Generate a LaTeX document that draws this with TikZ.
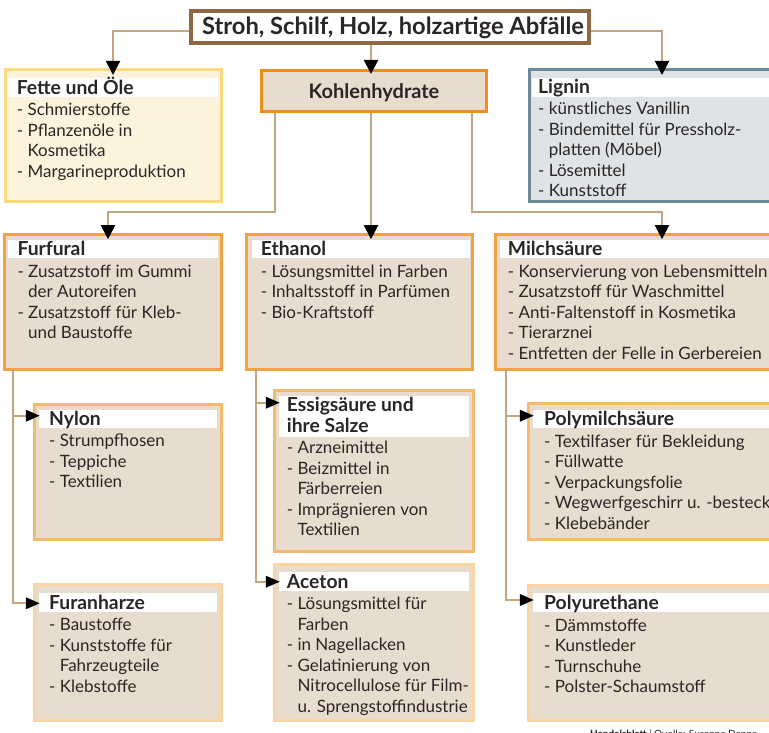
\documentclass[tikz,border=0pt]{standalone}
\usepackage{fontspec}
\setmainfont{Lato}
\usetikzlibrary{arrows.meta,fit}
\definecolor{topbrd}{HTML}{8E6842}
\definecolor{linec}{HTML}{C6A47F}
\definecolor{orA}{HTML}{EE8E1E}
\definecolor{orB}{HTML}{F0A245}
\definecolor{orC}{HTML}{F6BA6E}
\definecolor{orD}{HTML}{FBD4A3}
\definecolor{tanfill}{HTML}{E8DCCE}
\definecolor{yelbrd}{HTML}{FADA7F}
\definecolor{yelfill}{HTML}{FDF3DC}
\definecolor{blubrd}{HTML}{6E8A99}
\definecolor{blufill}{HTML}{DFE3E6}
\definecolor{textc}{HTML}{2A2626}
\newcommand\ct{\phantom{- }}
\newcommand\hdfont{\bfseries\fontsize{19.3}{21.5}\selectfont}
\newcommand\hd[1]{\rule{0pt}{20pt}{\hdfont #1}}
\newcommand\infobox[8]{%
  \node[#2, fit={(#3) (#4)}] (#1) {};
  \fill[white] (#5) rectangle (#6);
  \node[txt] (#1-t) at (#7) {#8};
}
\tikzset{
  box/.style={draw, line width=3pt, inner sep=-1.5pt, outer sep=0pt},
  fettebox/.style={box, draw=yelbrd, fill=yelfill},
  ligninbox/.style={box, draw=blubrd, fill=blufill},
  lvltwo/.style={box, draw=orB, fill=tanfill},
  lvlthree/.style={box, draw=orC, fill=tanfill},
  lvlfour/.style={box, draw=orD, fill=tanfill},
  txt/.style={anchor=north west, inner sep=0pt, align=left, text=textc,
    font=\fontsize{17}{20.5}\selectfont},
  conn/.style={draw=linec, line width=2pt, shorten >=-5pt,
    -{Triangle[length=14pt,width=14pt,color=black,fill=black]}},
  sconn/.style={draw=linec, line width=2pt, shorten >=-5pt,
    -{Triangle[length=14pt,width=11.5pt,color=black,fill=black]}},
}
\begin{document}
\begin{tikzpicture}[x=1pt,y=-1pt]
\useasboundingbox (0,0) rectangle (769,733);
\clip (0,0) rectangle (769,733);

% top
\node[draw=topbrd, line width=4pt, fill=white, inner sep=-2pt, fit={(189,9.5) (591,45.5)}] (top) {};
\node[text=textc, font=\bfseries\fontsize{23.7}{25}\selectfont, inner sep=0pt, anchor=base]
  (top-t) at (393,34.5) {Stroh, Schilf, Holz, holzartige Abfälle};

% Kohlenhydrate
\node[draw=orA, line width=3pt, fill=tanfill, inner sep=-1.5pt, fit={(260,69) (488.3,113.3)}] (kohle) {};
\node[text=textc, font=\bfseries\fontsize{20}{22}\selectfont, inner sep=0pt, anchor=base]
  (kohle-t) at (374,98.5) {Kohlenhydrate};

\infobox{fette}{fettebox}{3.5,68.5}{222.5,203.5}{8.3,78.3}{218.3,96.7}{16.7,74}
  {\hd{Fette und Öle}\\[1pt]- Schmierstoffe\\- Pflanzenöle in\\\ct Kosmetika\\- Margarineproduktion}
\infobox{lignin}{ligninbox}{528.3,68.5}{795.7,203.5}{531.5,77.7}{790,96.7}{538,73}
  {\hd{Lignin}\\[1pt]- künstliches Vanillin\\- Bindemittel für Pressholz-\\\ct platten (Möbel)\\- Lösemittel\\- Kunststoff}
\infobox{furfural}{lvltwo}{3.3,232.7}{222.7,370.7}{8.3,240}{218.3,258.3}{17.3,235.3}
  {\hd{Furfural}\\[1pt]- Zusatzstoff im Gummi\\\ct der Autoreifen\\- Zusatzstoff für Kleb-\\\ct und Baustoffe}
\infobox{ethanol}{lvltwo}{245,232.7}{474.3,370.7}{251.7,240}{470,258.3}{260.7,235.3}
  {\hd{Ethanol}\\[1pt]- Lösungsmittel in Farben\\- Inhaltsstoff in Parfümen\\- Bio-Kraftstoff}
\infobox{milch}{lvltwo}{494.3,232.7}{829.7,370.7}{500,240}{820,258.3}{507.7,235.3}
  {\hd{Milchsäure}\\[1pt]- Konservierung von Lebensmitteln\\- Zusatzstoff für Waschmittel\\- Anti-Faltenstoff in Kosmetika\\- Tierarznei\\- Entfetten der Felle in Gerbereien}
\infobox{nylon}{lvlthree}{33.3,402.7}{223.3,541}{39.3,410}{217.3,428.3}{49,405}
  {\hd{Nylon}\\[1pt]- Strumpfhosen\\- Teppiche\\- Textilien}
\infobox{furan}{lvlfour}{33.3,583.3}{223.3,722.3}{39.3,593.3}{217.3,611.7}{49,589}
  {\hd{Furanharze}\\[1pt]- Baustoffe\\- Kunststoffe für\\\ct Fahrzeugteile\\- Klebstoffe}
\infobox{essig}{lvlthree}{273.3,388.5}{475,553.3}{279.3,396}{469.3,437.3}{286.7,391.7}
  {\hd{Essigsäure und}\\[0pt]{\hdfont ihre Salze}\\[1pt]- Arzneimittel\\- Beizmittel in\\\ct Färberreien\\- Imprägnieren von\\\ct Textilien}
\infobox{aceton}{lvlfour}{273.3,563.3}{475,722.3}{279.3,572}{469.3,590.7}{286.7,568}
  {\hd{Aceton}\\[1pt]- Lösungsmittel für\\\ct Farben\\- in Nagellacken\\- Gelatinierung von\\\ct Nitrocellulose für Film-\\\ct u. Sprengstoffindustrie}
\infobox{polymilch}{lvlthree}{527.3,402.3}{829.7,541}{532.7,409.7}{820,428.3}{544,405.3}
  {\hd{Polymilchsäure}\\[1pt]- Textilfaser für Bekleidung\\- Füllwatte\\- Verpackungsfolie\\- Wegwerfgeschirr u. -besteck\\- Klebebänder}
\infobox{polyur}{lvlfour}{527.3,583.7}{829.7,722.3}{532.7,593.3}{820,612}{544,589.5}
  {\hd{Polyurethane}\\[1pt]- Dämmstoffe\\- Kunstleder\\- Turnschuhe\\- Polster-Schaumstoff}

% helper coordinates
\coordinate (spine) at (371,0);
\coordinate (kl) at (275,212);
\coordinate (kr) at (472,212);
\coordinate (fa) at (108,0);
\coordinate (fb) at (12.7,0);
\coordinate (eb) at (255.7,0);
\coordinate (mb) at (505.5,0);

% connectors
\draw[conn] ([yshift=-3.5pt]top.west) -| (fette.north);
\draw[conn] ([yshift=-3.5pt]top.east) -| (lignin.north);
\draw[conn] (top.south -| spine) -- (kohle.north -| spine);
\draw[conn] (kohle.south -| spine) -- (ethanol.north -| spine);
\draw[conn] (kohle.south -| kl) -- (kl) -| (furfural.north -| fa);
\draw[conn] (kohle.south -| kr) -- (kr) -| (milch.north);

\draw[sconn] (furfural.south -| fb) |- (nylon.west |- 0,415.7);
\draw[sconn] (furfural.south -| fb) |- (furan.west |- 0,603.3);
\draw[sconn] (ethanol.south -| eb) |- (essig.west |- 0,402.7);
\draw[sconn] (ethanol.south -| eb) |- (aceton.west |- 0,581.7);
\draw[sconn] (milch.south -| mb) |- (polymilch.west |- 0,415.7);
\draw[sconn] (milch.south -| mb) |- (polyur.west |- 0,600);

% credit line
\node[anchor=base west, inner sep=0pt, text=textc, font=\fontsize{10}{12}\selectfont]
  (credit) at (590,737.5) {\textbf{Handelsblatt} | Quelle: Susanne Denne};
\end{tikzpicture}
\end{document}
